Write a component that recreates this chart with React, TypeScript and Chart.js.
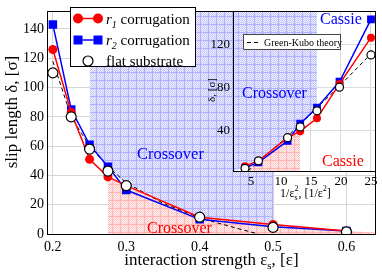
import React, { useEffect, useRef } from 'react';
import { Chart, registerables } from 'chart.js';

Chart.register(...registerables);

// ---------- main plot data ----------
const epsValues = [0.2, 0.225, 0.25, 0.275, 0.3, 0.4, 0.5, 0.6];
const r1Slip = [126, 83, 51, 39, 33, 11.5, 6.5, 2];
const r2Slip = [143, 85, 61, 46, 30, 10, 5, 2];
const flatSlip = [110, 80, 58, 43, 33, 11.5, 4.5, 1.5];
const theoryEps = [0.2, 0.225, 0.25, 0.275, 0.3, 0.35, 0.4, 0.45, 0.48];
const theorySlip = [118, 80, 60, 46, 35, 21, 11, 4, 0];

const blueZoneEps = [0.25, 0.275, 0.3, 0.4, 0.5];
const blueZoneSlip = [60, 46, 34, 11.5, 6];
const redZoneEps = [0.275, 0.3, 0.4, 0.5, 0.6, 0.64];
const redZoneSlip = [38, 33, 11, 6.5, 2, 1];

const xTicksMain = [0.2, 0.3, 0.4, 0.5, 0.6];
const yTicksMain = [0, 20, 40, 60, 80, 100, 120, 140];

// ---------- inset data (x = 1/eps_s^2) ----------
const invEpsSq = [25, 19.75, 16, 13.2, 11.1, 6.25, 4];
const insetCount = 7;
const insetTheoryX = [4.5, 11.1, 19.75, 25];
const insetTheoryY = [2, 34, 81, 111];
const insetBlueX = [2, 4, 6.25, 11.1, 13.2, 16];
const insetBlueY = [2, 6, 12, 34, 46, 60];
const insetRedX = [4, 6.25, 11.1, 13.2];
const insetRedY = [6, 11, 33, 38];
const xTicksInset = [5, 10, 15, 20, 25];
const yTicksInset = [40, 80, 120];

const SERIF = "'Liberation Serif', 'Times New Roman', serif";
const RED = '#ff0000';
const BLUE = '#0000ff';

const pts = (xs: number[], ys: number[]) => xs.map((x, i) => ({ x, y: ys[i] }));

function makePattern(fg: string, bg: string, line: string): CanvasPattern | string {
  const c = document.createElement('canvas');
  c.width = 8;
  c.height = 8;
  const g = c.getContext('2d');
  if (!g) return bg;
  g.fillStyle = bg;
  g.fillRect(0, 0, 8, 8);
  g.fillStyle = fg;
  for (let i = 0; i < 8; i++) {
    for (let j = 0; j < 8; j++) {
      if ((i + j) % 2 === 0) g.fillRect(i, j, 1, 1);
    }
  }
  g.fillStyle = line;
  g.fillRect(0, 0, 8, 1);
  g.fillRect(0, 0, 1, 8);
  return g.createPattern(c, 'repeat') || bg;
}

type Part = { t: string; size: number; italic?: boolean; dy?: number; stack?: boolean };

function drawRich(
  ctx: CanvasRenderingContext2D,
  parts: Part[],
  x: number,
  y: number,
  align: 'left' | 'center',
  color: string
) {
  ctx.save();
  ctx.fillStyle = color;
  ctx.textBaseline = 'alphabetic';
  ctx.textAlign = 'left';
  const widths = parts.map((p) => {
    ctx.font = `${p.italic ? 'italic ' : ''}${p.size}px ${SERIF}`;
    return ctx.measureText(p.t).width;
  });
  let total = 0;
  parts.forEach((p, i) => {
    if (!p.stack) total += widths[i];
  });
  let cx = align === 'center' ? x - total / 2 : x;
  let lastStart = cx;
  parts.forEach((p, i) => {
    ctx.font = `${p.italic ? 'italic ' : ''}${p.size}px ${SERIF}`;
    const start = p.stack ? lastStart : cx;
    ctx.fillText(p.t, start, y + (p.dy || 0));
    if (!p.stack) {
      lastStart = cx;
      cx += widths[i];
    } else {
      cx = Math.max(cx, start + widths[i]);
    }
  });
  ctx.restore();
}

const mainDecor = {
  id: 'mainDecor',
  afterDraw(chart: any) {
    const ctx: CanvasRenderingContext2D = chart.ctx;
    const a = chart.chartArea;
    ctx.save();
    // frame
    ctx.strokeStyle = '#000';
    ctx.lineWidth = 1;
    ctx.strokeRect(Math.round(a.left) + 0.5, Math.round(a.top) + 0.5, Math.round(a.right - a.left) - 1, Math.round(a.bottom - a.top));

    // legend box
    ctx.fillStyle = '#fff';
    ctx.fillRect(70, 7, 125, 60);
    ctx.strokeRect(70.5, 7.5, 125, 59);

    // r1 entry
    ctx.strokeStyle = RED;
    ctx.lineWidth = 1.5;
    ctx.beginPath();
    ctx.moveTo(78, 18.5);
    ctx.lineTo(98, 18.5);
    ctx.stroke();
    ctx.fillStyle = RED;
    [78, 98].forEach((cx) => {
      ctx.beginPath();
      ctx.arc(cx, 18.5, 5, 0, Math.PI * 2);
      ctx.fill();
    });
    // r2 entry
    ctx.strokeStyle = BLUE;
    ctx.beginPath();
    ctx.moveTo(78, 40);
    ctx.lineTo(98, 40);
    ctx.stroke();
    ctx.fillStyle = BLUE;
    [78, 98].forEach((cx) => {
      ctx.fillRect(cx - 4.5, 40 - 4.5, 9, 9);
    });
    // flat entry
    ctx.fillStyle = '#fff';
    ctx.strokeStyle = '#000';
    ctx.lineWidth = 1.2;
    ctx.beginPath();
    ctx.arc(88, 61, 5, 0, Math.PI * 2);
    ctx.fill();
    ctx.stroke();
    ctx.restore();

    drawRich(ctx, [{ t: 'r', size: 15, italic: true }, { t: '1', size: 10, italic: true, dy: 4 }, { t: ' corrugation', size: 15 }], 106, 24, 'left', '#000');
    drawRich(ctx, [{ t: 'r', size: 15, italic: true }, { t: '2', size: 10, italic: true, dy: 4 }, { t: ' corrugation', size: 15 }], 106, 45, 'left', '#000');
    drawRich(ctx, [{ t: 'flat substrate', size: 15 }], 106, 66, 'left', '#000');

    // annotations
    drawRich(ctx, [{ t: 'Crossover', size: 16.5 }], 137, 159, 'left', BLUE);
    drawRich(ctx, [{ t: 'Crossover', size: 16 }], 147, 233, 'left', RED);

    // axis titles
    drawRich(
      ctx,
      [{ t: 'interaction strength ε', size: 17 }, { t: 's', size: 11, dy: 4 }, { t: ', [ε]', size: 17 }],
      (a.left + a.right) / 2,
      265,
      'center',
      '#000'
    );
    ctx.save();
    ctx.translate(17, 112);
    ctx.rotate(-Math.PI / 2);
    drawRich(ctx, [{ t: 'slip length δ, [σ]', size: 17 }], 0, 0, 'center', '#000');
    ctx.restore();
  },
};

const insetDecor = {
  id: 'insetDecor',
  beforeDraw(chart: any) {
    const ctx: CanvasRenderingContext2D = chart.ctx;
    const a = chart.chartArea;
    ctx.save();
    ctx.fillStyle = '#fff';
    ctx.fillRect(a.left, a.top, a.right - a.left, a.bottom - a.top);
    ctx.restore();
  },
  afterDraw(chart: any) {
    const ctx: CanvasRenderingContext2D = chart.ctx;
    const a = chart.chartArea;
    ctx.save();
    ctx.strokeStyle = '#000';
    ctx.lineWidth = 1;
    ctx.strokeRect(Math.round(a.left) + 0.5, Math.round(a.top) + 0.5, Math.round(a.right - a.left), Math.round(a.bottom - a.top));

    // legend
    ctx.fillStyle = '#fff';
    ctx.fillRect(53, 34, 97, 15);
    ctx.strokeStyle = '#444';
    ctx.strokeRect(53.5, 34.5, 97, 15);
    ctx.strokeStyle = '#000';
    ctx.setLineDash([4, 3]);
    ctx.beginPath();
    ctx.moveTo(57, 42.5);
    ctx.lineTo(70, 42.5);
    ctx.stroke();
    ctx.setLineDash([]);
    ctx.restore();
    drawRich(ctx, [{ t: 'Green-Kubo theory', size: 10 }], 74, 45.5, 'left', '#000');

    drawRich(ctx, [{ t: 'Cassie', size: 16 }], 130, 24, 'left', BLUE);
    drawRich(ctx, [{ t: 'Crossover', size: 16 }], 52, 98, 'left', BLUE);
    drawRich(ctx, [{ t: 'Cassie', size: 16 }], 132, 166, 'left', RED);

    // axis titles
    drawRich(
      ctx,
      [
        { t: '1/ε', size: 12 },
        { t: 's', size: 8, dy: 3 },
        { t: '2', size: 8, dy: -6, stack: true },
        { t: ', [1/ε', size: 12 },
        { t: '2', size: 8, dy: -6 },
        { t: ']', size: 12 },
      ],
      115,
      197,
      'center',
      '#000'
    );
    ctx.save();
    ctx.translate(25, 90);
    ctx.rotate(-Math.PI / 2);
    drawRich(ctx, [{ t: 'δ, [σ]', size: 11 }], 0, 0, 'center', '#000');
    ctx.restore();
  },
};

function seriesSets(xs: number[], count: number, order0: number) {
  return [
    {
      label: 'flat substrate',
      data: pts(xs, flatSlip.slice(0, count)),
      showLine: false,
      pointStyle: 'circle',
      pointRadius: 5,
      pointBackgroundColor: '#fff',
      pointBorderColor: '#000',
      pointBorderWidth: 1.2,
      borderColor: '#000',
      order: order0,
    },
    {
      label: 'r1 corrugation',
      data: pts(xs, r1Slip.slice(0, count)),
      borderColor: RED,
      borderWidth: 1.5,
      pointStyle: 'circle',
      pointRadius: 4.5,
      pointBackgroundColor: RED,
      pointBorderColor: RED,
      pointBorderWidth: 0,
      order: order0 + 1,
    },
    {
      label: 'r2 corrugation',
      data: pts(xs, r2Slip.slice(0, count)),
      borderColor: BLUE,
      borderWidth: 1.5,
      pointStyle: 'rect',
      pointRadius: 6,
      pointBackgroundColor: BLUE,
      pointBorderColor: BLUE,
      pointBorderWidth: 0,
      order: order0 + 2,
    },
  ];
}

export default function App() {
  const mainRef = useRef<HTMLCanvasElement | null>(null);
  const insetRef = useRef<HTMLCanvasElement | null>(null);

  useEffect(() => {
    document.body.style.margin = '0';
    if (!mainRef.current || !insetRef.current) return;
    const bluePat = makePattern('#c2c2ff', '#f2f2ff', '#b0b0ff');
    const redPat = makePattern('#ffc4c4', '#fff4f4', '#ffb4b4');

    const tickFont = { family: SERIF, size: 14 };
    const main = new Chart(mainRef.current, {
      type: 'line',
      data: {
        datasets: [
          ...seriesSets(epsValues, epsValues.length, 1),
          {
            label: 'theory',
            data: pts(theoryEps, theorySlip),
            borderColor: '#000',
            borderWidth: 1,
            borderDash: [4, 3],
            pointRadius: 0,
            order: 4,
          },
          {
            label: 'blueZone',
            data: pts(blueZoneEps, blueZoneSlip),
            fill: 'end',
            backgroundColor: bluePat,
            borderWidth: 0,
            borderColor: 'rgba(0,0,0,0)',
            pointRadius: 0,
            order: 6,
          },
          {
            label: 'redZone',
            data: pts(redZoneEps, redZoneSlip),
            fill: 'start',
            backgroundColor: redPat,
            borderWidth: 0,
            borderColor: 'rgba(0,0,0,0)',
            pointRadius: 0,
            order: 5,
          },
        ] as any,
      },
      options: {
        responsive: false,
        animation: false,
        events: [],
        layout: { padding: { top: 1, right: 1, left: 0, bottom: 0 } },
        plugins: { legend: { display: false }, tooltip: { enabled: false } },
        scales: {
          x: {
            type: 'linear',
            min: 0.192,
            max: 0.64,
            afterBuildTicks: (s: any) => {
              s.ticks = xTicksMain.map((v) => ({ value: v }));
            },
            afterFit: (s: any) => {
              s.height = 39;
            },
            grid: { color: '#d6d6d6', drawTicks: false },
            border: { display: false },
            ticks: {
              font: tickFont,
              color: '#000',
              padding: 5,
              autoSkip: false,
              maxRotation: 0,
              callback: (v: any) => Number(v).toFixed(1),
            },
          },
          y: {
            type: 'linear',
            min: 0,
            max: 152,
            afterBuildTicks: (s: any) => {
              s.ticks = yTicksMain.map((v) => ({ value: v }));
            },
            afterFit: (s: any) => {
              s.width = 47;
            },
            grid: { color: '#d6d6d6', drawTicks: false },
            border: { display: false },
            ticks: { font: tickFont, color: '#000', padding: 3, autoSkip: false },
          },
        },
      },
      plugins: [mainDecor],
    } as any);

    const insetFont = { family: SERIF, size: 13 };
    const inset = new Chart(insetRef.current, {
      type: 'line',
      data: {
        datasets: [
          ...seriesSets(invEpsSq, insetCount, 1).map((d: any) => ({
            ...d,
            pointRadius: d.pointStyle === 'rect' ? 5.5 : 4,
          })),
          {
            label: 'Green-Kubo theory',
            data: pts(insetTheoryX, insetTheoryY),
            borderColor: '#000',
            borderWidth: 1,
            borderDash: [4, 3],
            pointRadius: 0,
            order: 4,
          },
          {
            label: 'blueZone',
            data: pts(insetBlueX, insetBlueY),
            fill: 'end',
            backgroundColor: bluePat,
            borderWidth: 0,
            borderColor: 'rgba(0,0,0,0)',
            pointRadius: 0,
            order: 6,
          },
          {
            label: 'redZone',
            data: pts(insetRedX, insetRedY),
            fill: 'start',
            backgroundColor: redPat,
            borderWidth: 0,
            borderColor: 'rgba(0,0,0,0)',
            pointRadius: 0,
            order: 5,
          },
        ] as any,
      },
      options: {
        responsive: false,
        animation: false,
        events: [],
        layout: { padding: { top: 7, right: 7, left: 0, bottom: 0 } },
        plugins: { legend: { display: false }, tooltip: { enabled: false } },
        scales: {
          x: {
            type: 'linear',
            min: 2,
            max: 25.67,
            afterBuildTicks: (s: any) => {
              s.ticks = xTicksInset.map((v) => ({ value: v }));
            },
            afterFit: (s: any) => {
              s.height = 39;
            },
            grid: { color: '#dcdcdc', drawTicks: false },
            border: { display: false },
            ticks: { font: insetFont, color: '#000', padding: 3, autoSkip: false, maxRotation: 0 },
          },
          y: {
            type: 'linear',
            min: 2,
            max: 151,
            afterBuildTicks: (s: any) => {
              s.ticks = yTicksInset.map((v) => ({ value: v }));
            },
            afterFit: (s: any) => {
              s.width = 43;
            },
            grid: { color: '#dcdcdc', drawTicks: false },
            border: { display: false },
            ticks: { font: insetFont, color: '#000', padding: 3, autoSkip: false },
          },
        },
      },
      plugins: [insetDecor],
    } as any);

    return () => {
      main.destroy();
      inset.destroy();
    };
  }, []);

  return (
    <div style={{ position: 'relative', width: 382, height: 273, background: '#fff' }}>
      <canvas ref={mainRef} width={382} height={273} style={{ position: 'absolute', left: 0, top: 0 }} />
      <canvas ref={insetRef} width={192} height={210} style={{ position: 'absolute', left: 190, top: 0 }} />
    </div>
  );
}
